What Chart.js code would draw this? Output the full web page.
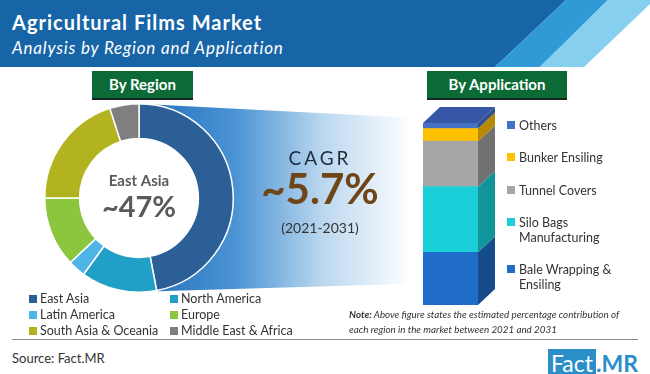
<!DOCTYPE html>
<html>
<head>
<meta charset="utf-8">
<script src="https://cdn.jsdelivr.net/npm/chart.js"></script>
<style>
  html, body { margin: 0; padding: 0; }
  body { width: 650px; height: 374px; position: relative; overflow: hidden; background: #fff; font-family: Lato, "Open Sans", sans-serif; color: #333; }
  .band { position: absolute; left: 0; top: 0; width: 650px; height: 67px; }
  .dark { background: #1765a6; clip-path: polygon(0 0, 566px 0, 495px 67px, 0 67px); }
  .mid { background: #2f9ad6; clip-path: polygon(566px 0, 608px 0, 540px 67px, 495px 67px); }
  .light { background: #86cfee; clip-path: polygon(608px 0, 650px 0, 650px 4px, 584px 67px, 540px 67px); }
  .title { position: absolute; left: 12px; top: 10px; color: #fff; font-weight: 700; font-size: 20px; letter-spacing: 1px; line-height: 24px; }
  .subtitle { position: absolute; left: 12px; top: 38px; color: #fff; font-style: italic; font-size: 17px; letter-spacing: 0.8px; line-height: 20px; }
  .tag { position: absolute; top: 71px; height: 27px; line-height: 27px; background: #0c6a36; color: #fff; font-weight: 700; font-size: 15px; text-align: center; box-shadow: 0 2px 0 #17261c; }
  canvas { position: absolute; }
  .cagr { position: absolute; left: 240px; width: 160px; text-align: center; }
  .sq { display: inline-block; width: 8px; height: 8px; margin-right: 3px; vertical-align: 0px; }
  #regionLegend { position: absolute; left: 29px; top: 291px; display: grid; grid-template-columns: 141px 141px; font-size: 12.5px; line-height: 16px; }
  #appLegend { position: absolute; left: 507px; top: 118px; height: 174px; display: flex; flex-direction: column; justify-content: space-between; font-size: 12.5px; line-height: 15px; }
  #appLegend div { display: flex; width: 120px; }
  #appLegend .sq { flex: none; margin-top: 3px; margin-right: 4px; }
  #appLegend span.t { width: 100px; }
  .note { position: absolute; left: 349px; top: 307px; font-size: 9.8px; font-style: italic; line-height: 15px; color: #333; }
  .rule { position: absolute; left: 12px; top: 339px; width: 626px; height: 0; border-top: 1.5px solid #8a8a8a; }
  .source { position: absolute; left: 12px; top: 350px; font-size: 13px; }
  .logo { position: absolute; left: 548px; top: 352px; height: 23px; font-size: 23px; line-height: 23px; }
  .logo .box { background: #2b8ec9; color: #fff; padding: 0 3px; }
  .logo .mr { color: #2b8ec9; font-weight: 700; }
</style>
</head>
<body>
<div class="band dark"></div>
<div class="band mid"></div>
<div class="band light"></div>
<div class="title">Agricultural Films Market</div>
<div class="subtitle">Analysis by Region and Application</div>
<div class="tag" style="left:92px;width:101px;">By Region</div>
<div class="tag" style="left:427px;width:140px;">By Application</div>

<canvas id="donut" width="440" height="200" style="left:0;top:98px;width:440px;height:200px;"></canvas>
<div class="cagr" style="top:146px;font-size:19px;letter-spacing:3px;color:#1f2d40;" id="cagrLabel"></div>
<div class="cagr" style="top:164px;font-size:42px;font-weight:700;color:#6e4617;line-height:48px;" id="cagrValue"></div>
<div class="cagr" style="top:219px;font-size:14px;color:#333;" id="cagrPeriod"></div>

<canvas id="bar" width="100" height="210" style="left:410px;top:100px;width:100px;height:210px;"></canvas>
<div id="appLegend"></div>
<div id="regionLegend"></div>

<div class="note"><b>Note:</b> Above figure states the estimated percentage contribution of<br>each region in the market between 2021 and 2031</div>
<div class="rule"></div>
<div class="source">Source: Fact.MR</div>
<div class="logo"><span class="box">Fact</span><span class="mr">.MR</span></div>

<script>
var regionLabels = ['East Asia', 'North America', 'Latin America', 'Europe', 'South Asia & Oceania', 'Middle East & Africa']
var regionShares = [47, 13, 3, 12, 20, 5]
var regionColors = ['#2b5f96', '#20a0c6', '#4fb5e6', '#8cc63f', '#b3b21f', '#7f7f7f']

var appLabels = ['Bale Wrapping & Ensiling', 'Silo Bags Manufacturing', 'Tunnel Covers', 'Bunker Ensiling', 'Others']
var appShares = [29, 36, 25, 7, 3]
var appColors = ['#1f6dc8', '#1bcfd8', '#a6a6a6', '#ffc000', '#4472c4']
var appSideColors = ['#174c8c', '#12949b', '#717171', '#b98a00', '#2f4f8f']

var cagrValue = 5.7
var cagrPeriod = '(2021-2031)'

document.getElementById('cagrLabel').textContent = 'CAGR'
document.getElementById('cagrValue').textContent = '~' + cagrValue + '%'
document.getElementById('cagrPeriod').textContent = cagrPeriod

// legends
var regionLegend = document.getElementById('regionLegend')
regionLabels.forEach(function (label, i) {
    var d = document.createElement('div')
    d.innerHTML = '<span class="sq" style="background:' + regionColors[i] + '"></span>' + label.replace('&', '&amp;')
    regionLegend.appendChild(d)
})
var appLegend = document.getElementById('appLegend')
for (var i = appLabels.length - 1; i >= 0; i--) {
    var d = document.createElement('div')
    d.innerHTML = '<span class="sq" style="background:' + appColors[i] + '"></span><span class="t">' + appLabels[i].replace('&', '&amp;') + '</span>'
    appLegend.appendChild(d)
}

// blue fan behind the donut + text in the hole
var fanPlugin = {
    id: 'fan',
    beforeDatasetsDraw: function (chart) {
        var arc = chart.getDatasetMeta(0).data[0]
        var cx = arc.x, cy = arc.y, R = arc.outerRadius
        var c = chart.ctx
        c.save()
        var g = c.createLinearGradient(cx, 0, cx + 272, 0)
        g.addColorStop(0, '#2270bd')
        g.addColorStop(0.35, '#4a93d3')
        g.addColorStop(0.68, '#bcd8ef')
        g.addColorStop(1, '#ffffff')
        c.fillStyle = g
        c.beginPath()
        c.moveTo(cx, cy - R)
        c.lineTo(cx + 291, cy - R + 15)
        c.lineTo(cx + 291, cy + R - 9)
        c.lineTo(cx + 18, cy + R - 1)
        c.closePath()
        c.fill()
        c.fillStyle = '#fff'
        c.beginPath()
        c.arc(cx, cy, R, 0, Math.PI * 2)
        c.fill()
        c.restore()
    },
    afterDraw: function (chart) {
        var arc = chart.getDatasetMeta(0).data[0]
        var c = chart.ctx
        c.save()
        c.textAlign = 'center'
        c.textBaseline = 'middle'
        c.fillStyle = '#5a5a5a'
        c.font = 'bold 15px Lato'
        c.fillText(regionLabels[0], arc.x, arc.y - 17)
        c.font = 'bold 29px Lato'
        c.fillText('~' + regionShares[0] + '%', arc.x, arc.y + 10)
        c.restore()
    }
}

new Chart(document.getElementById('donut').getContext('2d'), {
    type: 'doughnut',
    data: {
        labels: regionLabels,
        datasets: [{
            data: regionShares,
            backgroundColor: regionColors,
            borderColor: '#ffffff',
            borderWidth: 1.5
        }]
    },
    options: {
        responsive: false,
        animation: false,
        cutout: '63%',
        layout: { padding: { left: 44, right: 206, top: 5, bottom: 5 } },
        plugins: { legend: { display: false }, tooltip: { enabled: false } }
    },
    plugins: [fanPlugin]
})

// 3d faces for the stacked column
var depthX = 17, depthY = 16
var cubePlugin = {
    id: 'cube',
    afterDatasetsDraw: function (chart) {
        var c = chart.ctx
        c.save()
        chart.data.datasets.forEach(function (ds, i) {
            var el = chart.getDatasetMeta(i).data[0]
            var right = el.x + el.width / 2
            var left = el.x - el.width / 2
            c.fillStyle = appSideColors[i]
            c.beginPath()
            c.moveTo(right, el.y)
            c.lineTo(right + depthX, el.y - depthY)
            c.lineTo(right + depthX, el.base - depthY)
            c.lineTo(right, el.base)
            c.closePath()
            c.fill()
            if (i === chart.data.datasets.length - 1) {
                c.fillStyle = '#3656a8'
                c.beginPath()
                c.moveTo(left, el.y)
                c.lineTo(left + depthX, el.y - depthY)
                c.lineTo(right + depthX, el.y - depthY)
                c.lineTo(right, el.y)
                c.closePath()
                c.fill()
            }
        })
        c.restore()
    }
}

new Chart(document.getElementById('bar').getContext('2d'), {
    type: 'bar',
    data: {
        labels: ['Application'],
        datasets: appLabels.map(function (label, i) {
            return {
                label: label,
                data: [appShares[i]],
                backgroundColor: appColors[i],
                borderWidth: 0,
                barPercentage: 1,
                categoryPercentage: 1
            }
        })
    },
    options: {
        responsive: false,
        animation: false,
        layout: { padding: { left: 13, right: 32, top: 23, bottom: 5 } },
        scales: {
            x: { stacked: true, display: false },
            y: { stacked: true, display: false, min: 0, max: 100 }
        },
        plugins: { legend: { display: false }, tooltip: { enabled: false } }
    },
    plugins: [cubePlugin]
})
</script>
</body>
</html>
